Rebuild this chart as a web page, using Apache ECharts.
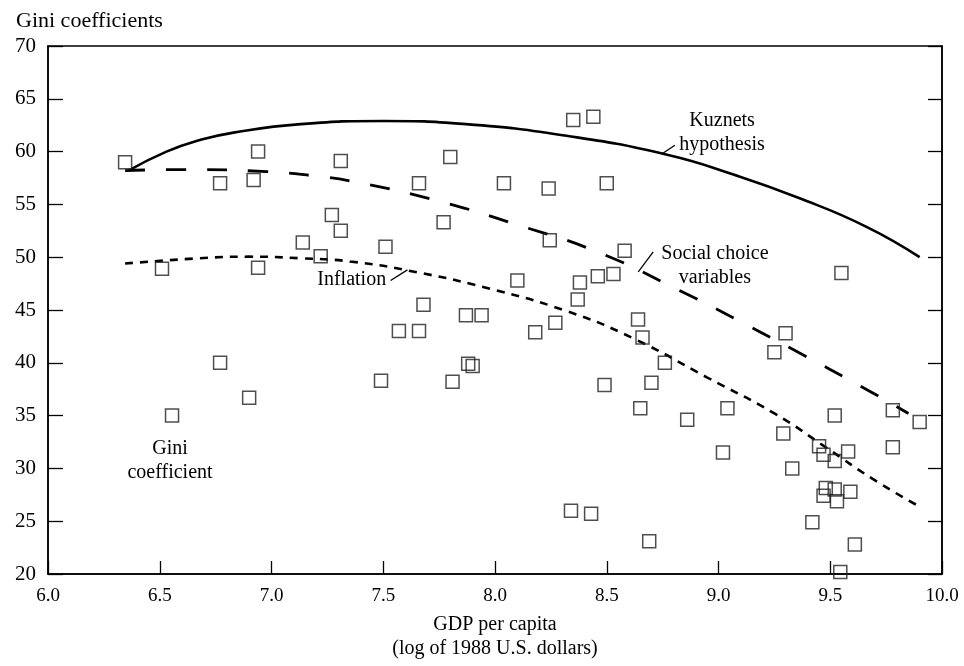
<!DOCTYPE html>
<html><head><meta charset="utf-8">
<script src="https://cdn.jsdelivr.net/npm/echarts@6/dist/echarts.min.js"></script>
<style>html,body{margin:0;padding:0;background:#fff}#c{width:964px;height:666px}</style>
</head><body><div id="c"></div>
<script>
// ---- data ----
const giniPoints = [
  [6.345,59.0],[6.51,48.9],[6.555,35.0],[6.77,40.0],[6.77,57.0],[6.90,36.7],[6.92,57.3],[6.94,60.0],[6.94,49.0],
  [7.14,51.4],[7.22,50.1],[7.27,54.0],[7.31,52.5],[7.31,59.1],[7.49,38.3],[7.51,51.0],[7.57,43.0],[7.66,57.0],
  [7.66,43.0],[7.68,45.5],[7.77,53.3],[7.80,59.5],[7.81,38.2],[7.87,44.5],[7.94,44.5],[7.88,39.9],[7.90,39.7],
  [8.04,57.0],[8.10,47.8],[8.18,42.9],[8.24,56.5],[8.245,51.6],[8.27,43.8],[8.35,63.0],[8.34,26.0],[8.37,46.0],
  [8.38,47.6],[8.44,63.3],[8.43,25.7],[8.46,48.2],[8.49,37.9],[8.50,57.0],[8.53,48.4],[8.58,50.6],[8.64,44.1],
  [8.65,35.7],[8.66,42.4],[8.70,38.1],[8.69,23.1],[8.76,40.0],[8.86,34.6],[9.02,31.5],[9.04,35.7],[9.25,41.0],
  [9.30,42.8],[9.29,33.3],[9.33,30.0],[9.42,24.9],[9.45,32.1],[9.47,31.3],[9.48,28.15],[9.47,27.4],[9.52,35.0],
  [9.52,30.7],[9.52,28.0],[9.53,26.9],[9.545,20.2],[9.55,48.5],[9.58,31.6],[9.59,27.8],[9.61,22.8],[9.78,35.5],
  [9.78,32.0],[9.90,34.4]
];
const kuznetsCurve = [
  [6.36,58.2],[6.53,60.0],[6.68,61.1],[6.83,61.8],[7.13,62.6],[7.50,62.9],[7.87,62.6],
  [8.32,61.5],[8.77,59.7],[9.07,57.8],[9.36,55.6],[9.66,52.9],[9.90,50.0]
];
const socialChoiceCurve = [
  [6.345,58.2],[6.59,58.3],[6.98,58.1],[7.19,57.7],[7.38,57.1],[7.75,55.3],[8.11,53.0],
  [8.47,50.4],[8.83,46.8],[9.08,44.1],[9.33,41.3],[9.66,37.5],[9.85,35.2]
];
const inflationCurve = [
  [6.345,49.4],[6.68,49.9],[6.90,50.05],[7.13,49.9],[7.35,49.6],[7.62,48.7],[7.96,47.1],[8.32,44.9],
  [8.62,42.3],[8.95,38.6],[9.25,35.2],[9.48,32.0],[9.69,29.0],[9.89,26.5]
];
const xRange = [6, 10, 0.5];
const yRange = [20, 70, 5];
const titleText = 'Gini coefficients';
const xAxisName = 'GDP per capita\n(log of 1988 U.S. dollars)';
const annotations = [
  {text:'Kuznets\nhypothesis', at:[9.016,61.75], line:[[8.746,59.77],[8.805,60.6]]},
  {text:'Social choice\nvariables', at:[8.984,49.2], line:[[8.641,48.6],[8.708,50.5]]},
  {text:'Inflation', at:[7.359,47.9], line:[[7.533,47.8],[7.608,48.8]]},
  {text:'Gini\ncoefficient', at:[6.546,30.7], line:null}
];

const FONT = '"Liberation Serif","Times New Roman",serif';
const chart = echarts.init(document.getElementById('c'), null, {renderer:'canvas'});
const axisLineStyle = {color:'#000', width:1.5};
chart.setOption({
  animation:false,
  backgroundColor:'#fff',
  title:{text:titleText, left:11, top:5, textStyle:{fontFamily:FONT, fontWeight:'normal', fontSize:22, color:'#000'}},
  grid:{left:48, right:22, top:46, bottom:90, show:true, borderColor:'#000', borderWidth:1.5},
  xAxis:{type:'value', min:xRange[0], max:xRange[1], interval:xRange[2],
    axisLine:{show:true, lineStyle:axisLineStyle},
    axisTick:{show:true, inside:true, length:13, lineStyle:{color:'#000', width:1.3}},
    axisLabel:{fontFamily:FONT, fontSize:19, color:'#000', margin:13, formatter:v=>v.toFixed(1)},
    splitLine:{show:false},
    name:xAxisName, nameLocation:'middle', nameGap:39,
    nameTextStyle:{fontFamily:FONT, fontSize:20, color:'#000', lineHeight:24}
  },
  yAxis:[
    {type:'value', min:yRange[0], max:yRange[1], interval:yRange[2], position:'left',
      axisLine:{show:true, lineStyle:axisLineStyle},
      axisTick:{show:true, inside:true, length:15, lineStyle:{color:'#000', width:1.3}},
      axisLabel:{fontFamily:FONT, fontSize:21, color:'#000', margin:12},
      splitLine:{show:false}},
    {type:'value', min:yRange[0], max:yRange[1], interval:yRange[2], position:'right',
      axisLine:{show:true, lineStyle:axisLineStyle},
      axisTick:{show:true, inside:true, length:14, lineStyle:{color:'#000', width:1.3}},
      axisLabel:{show:false}, splitLine:{show:false}}
  ],
  series:[
    {type:'line', name:'Kuznets', data:kuznetsCurve, smooth:0.5, showSymbol:false, symbol:'none',
      lineStyle:{color:'#000', width:2.6, type:'solid'}, z:3},
    {type:'line', name:'Social', data:socialChoiceCurve, smooth:0.5, showSymbol:false, symbol:'none',
      lineStyle:{color:'#000', width:2.8, type:[20,21]}, z:3},
    {type:'line', name:'Inflation', data:inflationCurve, smooth:0.5, showSymbol:false, symbol:'none',
      lineStyle:{color:'#000', width:2.6, type:[8,7]}, z:3},
    {type:'scatter', name:'Gini', data:giniPoints, symbol:'rect', symbolSize:13,
      itemStyle:{color:'rgba(255,255,255,0)', borderColor:'#222', borderWidth:1.5}, z:4}
  ]
});

const g = [];
annotations.forEach(a=>{
  const p = chart.convertToPixel({gridIndex:0}, a.at);
  g.push({type:'text', x:p[0], y:p[1], style:{text:a.text, font:'20px '+FONT, fill:'#000',
    align:'center', verticalAlign:'middle', lineHeight:24}, z:10});
  if (a.line){
    const p1 = chart.convertToPixel({gridIndex:0}, a.line[0]);
    const p2 = chart.convertToPixel({gridIndex:0}, a.line[1]);
    g.push({type:'line', shape:{x1:p1[0], y1:p1[1], x2:p2[0], y2:p2[1]}, style:{stroke:'#000', lineWidth:1.3}, z:10});
  }
});
chart.setOption({graphic:g});
</script></body></html>
